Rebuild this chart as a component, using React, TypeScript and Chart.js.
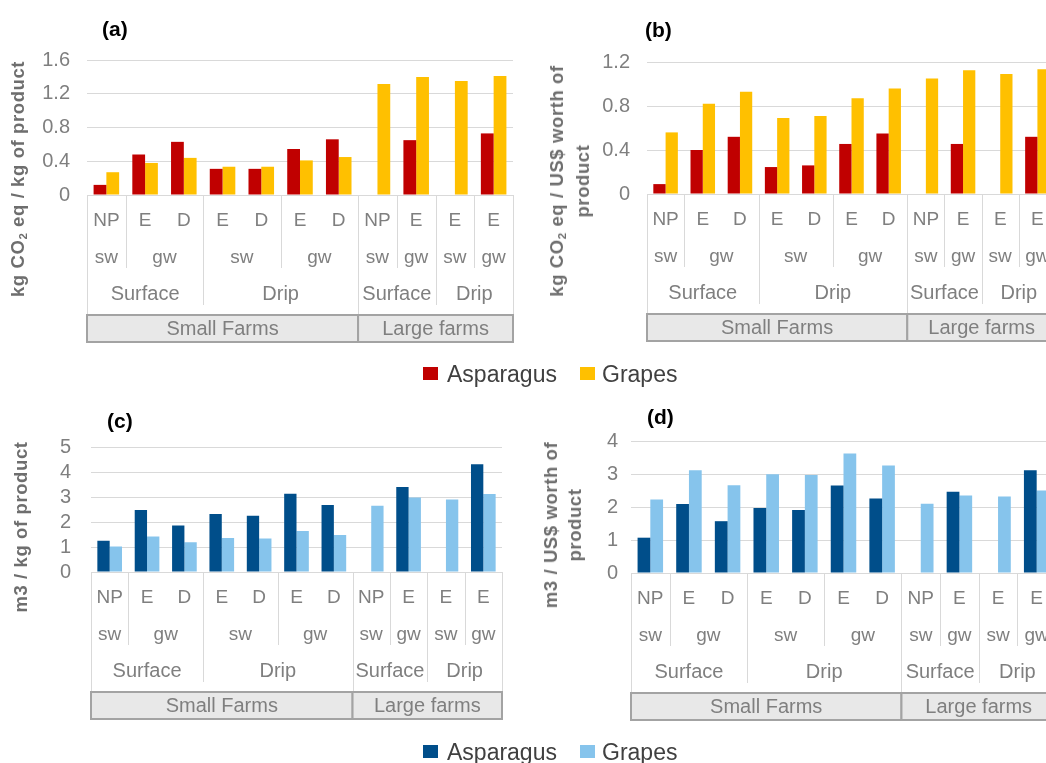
import React, { useEffect, useRef } from "react";
import { Chart, registerables } from "chart.js";

Chart.register(...registerables);

// ---- category hierarchy (x axis table) ----
const scenarioLabels = ["NP", "E", "D", "E", "D", "E", "D", "NP", "E", "E", "E"];
const sourceLabels = ["sw", "gw", "sw", "gw", "sw", "gw", "sw", "gw"];
const sourceSpans = [1, 2, 2, 2, 1, 1, 1, 1];
const irrigationLabels = ["Surface", "Drip", "Surface", "Drip"];
const irrigationSpans = [3, 4, 2, 2];
const farmLabels = ["Small Farms", "Large farms"];
const farmSpans = [7, 4];

const seriesNames = ["Asparagus", "Grapes"];

// ---- (a) kg CO2 eq / kg of product ----
const carbonPerKgAsparagus = [0.12, 0.48, 0.63, 0.31, 0.31, 0.545, 0.66, null, 0.65, null, 0.73];
const carbonPerKgGrapes = [0.27, 0.38, 0.44, 0.335, 0.335, 0.41, 0.45, 1.315, 1.4, 1.35, 1.41];
// ---- (b) kg CO2 eq / US$ worth of product ----
const carbonPerUsdAsparagus = [0.09, 0.4, 0.52, 0.245, 0.26, 0.455, 0.55, null, 0.455, null, 0.52];
const carbonPerUsdGrapes = [0.56, 0.82, 0.93, 0.69, 0.71, 0.87, 0.96, 1.05, 1.125, 1.09, 1.135];
// ---- (c) m3 / kg of product ----
const waterPerKgAsparagus = [1.25, 2.48, 1.86, 2.32, 2.25, 3.13, 2.68, null, 3.4, null, 4.31];
const waterPerKgGrapes = [1.02, 1.42, 1.19, 1.36, 1.34, 1.64, 1.48, 2.65, 2.98, 2.9, 3.12];
// ---- (d) m3 / US$ worth of product ----
const waterPerUsdAsparagus = [1.07, 2.09, 1.57, 1.97, 1.91, 2.65, 2.26, null, 2.46, null, 3.11];
const waterPerUsdGrapes = [2.23, 3.11, 2.66, 2.99, 2.97, 3.62, 3.26, 2.1, 2.35, 2.32, 2.5];

// ---- y axis ranges ----
const yMaxA = 1.6, yStepA = 0.4;
const yMaxB = 1.2, yStepB = 0.4;
const yMaxC = 5, yStepC = 1;
const yMaxD = 4, yStepD = 1;

const FONT = "'Liberation Sans', Arial, sans-serif";
const RED = "#C00000";
const YELLOW = "#FFC000";
const DARK_BLUE = "#004E8A";
const LIGHT_BLUE = "#86C4EC";
const GRID = "#d9d9d9";
const TEXT_GRAY = "#7f7f7f";

const tablePlugin = {
  id: "categoryTable",
  afterDraw(chart: any) {
    const ctx: CanvasRenderingContext2D = chart.ctx;
    const xs = chart.scales.x;
    const B = chart.chartArea.bottom;
    const n = scenarioLabels.length;
    const bound = (k: number) => xs.getPixelForValue(k - 0.5);
    const px = (v: number) => Math.round(v) + 0.5;
    ctx.save();
    ctx.strokeStyle = GRID;
    ctx.lineWidth = 1;
    const vline = (x: number, y1: number, y2: number) => {
      ctx.beginPath();
      ctx.moveTo(px(x), y1);
      ctx.lineTo(px(x), y2);
      ctx.stroke();
    };
    // top line
    ctx.beginPath();
    ctx.moveTo(bound(0), px(B));
    ctx.lineTo(bound(n), px(B));
    ctx.stroke();
    // outer borders
    vline(bound(0), B, B + 120);
    vline(bound(n), B, B + 120);
    ctx.fillStyle = TEXT_GRAY;
    ctx.textAlign = "center";
    ctx.textBaseline = "middle";
    ctx.font = `19px ${FONT}`;
    // row 1
    scenarioLabels.forEach((l, i) => {
      ctx.fillText(l, xs.getPixelForValue(i), B + 26);
    });
    // row 2
    let k = 0;
    sourceLabels.forEach((l, i) => {
      const s = k, e = k + sourceSpans[i];
      if (e < n) vline(bound(e), B, B + 73);
      ctx.fillText(l, (bound(s) + bound(e)) / 2, B + 63);
      k = e;
    });
    // row 3
    k = 0;
    ctx.font = `20px ${FONT}`;
    irrigationLabels.forEach((l, i) => {
      const s = k, e = k + irrigationSpans[i];
      if (e < n) vline(bound(e), B, B + 110);
      ctx.fillText(l, (bound(s) + bound(e)) / 2, B + 99);
      k = e;
    });
    // farm boxes
    k = 0;
    farmLabels.forEach((l, i) => {
      const s = k, e = k + farmSpans[i];
      const x1 = bound(s), x2 = bound(e);
      if (e < n) vline(x2, B, B + 120);
      ctx.fillStyle = "#e8e8e8";
      ctx.fillRect(x1, B + 120, x2 - x1, 27);
      ctx.strokeStyle = "#a3a3a3";
      ctx.lineWidth = 2;
      ctx.strokeRect(x1, B + 120, x2 - x1, 27);
      ctx.strokeStyle = GRID;
      ctx.lineWidth = 1;
      ctx.fillStyle = TEXT_GRAY;
      ctx.font = `20px ${FONT}`;
      ctx.fillText(l, (x1 + x2) / 2, B + 134);
      k = e;
    });
    ctx.restore();
  },
};

type PanelProps = {
  left: number; top: number; width: number; height: number;
  plot: { left: number; right: number; top: number; bottom: number };
  asparagus: (number | null)[]; grapes: (number | null)[];
  colors: string[]; yMax: number; yStep: number; tickGap: number;
};

function Panel(p: PanelProps) {
  const ref = useRef<HTMLCanvasElement>(null);
  useEffect(() => {
    const chart = new Chart(ref.current as HTMLCanvasElement, {
      type: "bar",
      data: {
        labels: scenarioLabels,
        datasets: [
          { label: seriesNames[0], data: p.asparagus as any, backgroundColor: p.colors[0], categoryPercentage: 0.66, barPercentage: 1 },
          { label: seriesNames[1], data: p.grapes as any, backgroundColor: p.colors[1], categoryPercentage: 0.66, barPercentage: 1 },
        ],
      },
      options: {
        responsive: false,
        animation: false,
        devicePixelRatio: 1,
        layout: {
          padding: {
            left: 0,
            top: p.plot.top - p.top,
            right: p.left + p.width - p.plot.right,
            bottom: p.top + p.height - p.plot.bottom,
          },
        },
        plugins: { legend: { display: false }, tooltip: { enabled: false } },
        scales: {
          x: { display: false },
          y: {
            min: 0,
            max: p.yMax,
            ticks: { stepSize: p.yStep, autoSkip: false, color: TEXT_GRAY, font: { family: FONT, size: 20 }, padding: p.tickGap },
            grid: { color: GRID, drawTicks: false },
            border: { display: false },
            afterFit: (s: any) => { s.width = p.plot.left - p.left; },
          },
        },
      },
      plugins: [tablePlugin],
    });
    return () => chart.destroy();
  }, []);
  return (
    <canvas
      ref={ref}
      width={p.width}
      height={p.height}
      style={{ position: "absolute", left: p.left, top: p.top, width: p.width, height: p.height }}
    />
  );
}

function AxisTitle({ cx, cy, children }: { cx: number; cy: number; children: any }) {
  return (
    <div
      style={{
        position: "absolute", left: cx, top: cy,
        transform: "translate(-50%, -50%) rotate(-90deg)",
        whiteSpace: "nowrap", fontWeight: "bold", fontSize: 18.5, letterSpacing: "0.6px", lineHeight: "24px",
        color: "#6e6e6e", textAlign: "center",
      }}
    >
      {children}
    </div>
  );
}

const Sub = ({ children }: { children: any }) => (
  <span style={{ fontSize: "0.62em", position: "relative", top: "0.3em" }}>{children}</span>
);

function PanelLabel({ x, y, text }: { x: number; y: number; text: string }) {
  return (
    <div style={{ position: "absolute", left: x, top: y, transform: "translateY(-50%)", fontWeight: "bold", fontSize: 21, color: "#000" }}>
      {text}
    </div>
  );
}

function Legend({ y, colors }: { y: number; colors: string[] }) {
  const items = [
    { sq: 423, tx: 447, name: seriesNames[0], color: colors[0] },
    { sq: 580, tx: 602, name: seriesNames[1], color: colors[1] },
  ];
  return (
    <>
      {items.map((it) => (
        <React.Fragment key={it.name}>
          <div style={{ position: "absolute", left: it.sq, top: y - 7, width: 15, height: 13, background: it.color }} />
          <div style={{ position: "absolute", left: it.tx, top: y, transform: "translateY(-50%)", fontSize: 23, color: "#404040", lineHeight: "26px" }}>
            {it.name}
          </div>
        </React.Fragment>
      ))}
    </>
  );
}

export default function App() {
  return (
    <div
      style={{
        position: "fixed", left: 0, top: 0, width: 1046, height: 763,
        overflow: "hidden", background: "#fff", fontFamily: FONT,
      }}
    >
      <Panel left={0} top={0} width={530} height={360}
        plot={{ left: 87, right: 513, top: 60, bottom: 195 }}
        asparagus={carbonPerKgAsparagus} grapes={carbonPerKgGrapes}
        colors={[RED, YELLOW]} yMax={yMaxA} yStep={yStepA} tickGap={17} />
      <Panel left={530} top={0} width={560} height={360}
        plot={{ left: 647, right: 1056, top: 62, bottom: 194 }}
        asparagus={carbonPerUsdAsparagus} grapes={carbonPerUsdGrapes}
        colors={[RED, YELLOW]} yMax={yMaxB} yStep={yStepB} tickGap={17} />
      <Panel left={0} top={380} width={530} height={383}
        plot={{ left: 91, right: 502, top: 447, bottom: 572 }}
        asparagus={waterPerKgAsparagus} grapes={waterPerKgGrapes}
        colors={[DARK_BLUE, LIGHT_BLUE]} yMax={yMaxC} yStep={yStepC} tickGap={20} />
      <Panel left={530} top={380} width={560} height={383}
        plot={{ left: 631, right: 1056, top: 441, bottom: 573 }}
        asparagus={waterPerUsdAsparagus} grapes={waterPerUsdGrapes}
        colors={[DARK_BLUE, LIGHT_BLUE]} yMax={yMaxD} yStep={yStepD} tickGap={13} />

      <PanelLabel x={102} y={29} text="(a)" />
      <PanelLabel x={645} y={30} text="(b)" />
      <PanelLabel x={107} y={421} text="(c)" />
      <PanelLabel x={647} y={417} text="(d)" />

      <AxisTitle cx={19} cy={179}>kg CO<Sub>2</Sub> eq / kg of product</AxisTitle>
      <AxisTitle cx={570} cy={181}>kg CO<Sub>2</Sub> eq / US$ worth of<br />product</AxisTitle>
      <AxisTitle cx={21} cy={527}>m3 / kg of product</AxisTitle>
      <AxisTitle cx={563} cy={525}>m3 / US$ worth of<br />product</AxisTitle>

      <Legend y={374} colors={[RED, YELLOW]} />
      <Legend y={752} colors={[DARK_BLUE, LIGHT_BLUE]} />
    </div>
  );
}
